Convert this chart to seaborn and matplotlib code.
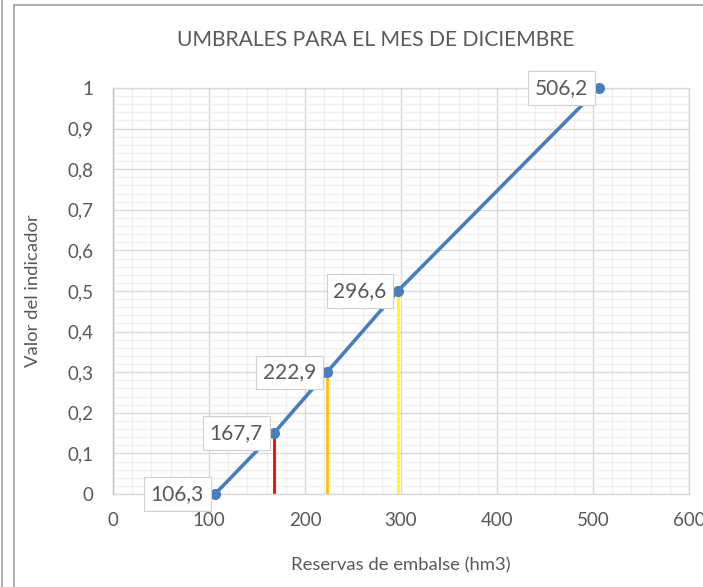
import matplotlib
matplotlib.use("Agg")
import matplotlib.pyplot as plt
import seaborn as sns
import pandas as pd
from matplotlib.ticker import MultipleLocator, FuncFormatter
from matplotlib.lines import Line2D

reservas = [106.3, 167.7, 222.9, 296.6, 506.2]
indicador = [0.0, 0.15, 0.3, 0.5, 1.0]
etiquetas = ["106,3", "167,7", "222,9", "296,6", "506,2"]
umbral_x = [167.7, 222.9, 296.6]
umbral_y = [0.15, 0.3, 0.5]
umbral_col = ["#FF0000", "#FFC000", "#FFFF00"]

sns.set_theme(style="white")
plt.rcParams['font.family'] = ['Lato', 'DejaVu Sans']
txt = "#595959"

fig = plt.figure(figsize=(7.03, 5.87), dpi=100)
ax = fig.add_axes([113/703, 1-494/587, (689-113)/703, (494-88)/587])

df = pd.DataFrame({"x": reservas, "y": indicador})

for xv, yv, c in zip(umbral_x, umbral_y, umbral_col):
    ax.plot([xv, xv], [0, yv], color=c, lw=2, zorder=2)

sns.lineplot(data=df, x="x", y="y", ax=ax, color="#4A7EBB", lw=2.6,
             marker="o", markersize=8, markeredgewidth=0, zorder=3, clip_on=False)

for xv, yv, lab in zip(reservas, indicador, etiquetas):
    ax.annotate(lab, (xv, yv), xytext=(-8, 0), textcoords="offset points",
                ha="right", va="center", fontsize=15, color=txt, zorder=4,
                annotation_clip=False,
                bbox=dict(boxstyle="square,pad=0.32", fc="white", ec="#D0D0D0", lw=0.8))

ax.set_xlim(0, 600)
ax.set_ylim(0, 1)
ax.xaxis.set_major_locator(MultipleLocator(100))
ax.xaxis.set_minor_locator(MultipleLocator(20))
ax.yaxis.set_major_locator(MultipleLocator(0.1))
ax.yaxis.set_minor_locator(MultipleLocator(0.02))
ax.yaxis.set_major_formatter(FuncFormatter(lambda v, p: ("%g" % round(v, 2)).replace(".", ",")))
ax.grid(which="major", color="#D9D9D9", lw=1.0)
ax.grid(which="minor", color="#F0F0F0", lw=1.0)
ax.set_axisbelow(True)
for s in ax.spines.values():
    s.set_color("#D9D9D9")
    s.set_linewidth(1.0)
ax.spines['left'].set_color("#BFBFBF")
ax.tick_params(which="both", length=0, labelsize=13.5, labelcolor=txt)
ax.tick_params(axis="x", pad=13)
ax.tick_params(axis="y", pad=14)
ax.set_xlabel("")
ax.set_ylabel("")
fig.text((113+689)/2/703, 1-565/587, "Reservas de embalse (hm3)", ha="center", va="center",
         fontsize=13.3, color=txt)
fig.text(33/703, 1-291/587, "Valor del indicador", ha="center", va="center",
         rotation=90, fontsize=13.3, color=txt)
fig.text(376/703, 1-40/587, "UMBRALES PARA EL MES DE DICIEMBRE",
         ha="center", va="center", fontsize=15.2, color=txt)

fig.add_artist(Line2D([14/703, 14/703], [0, 1-5/587], transform=fig.transFigure, color="#A0A0A0", lw=1.2))
fig.add_artist(Line2D([14/703, 1], [1-5/587, 1-5/587], transform=fig.transFigure, color="#A0A0A0", lw=1.2))
fig.add_artist(Line2D([1.5/703, 1.5/703], [0, 1], transform=fig.transFigure, color="#A0A0A0", lw=1.2))

fig.savefig("out.png", dpi=100)
